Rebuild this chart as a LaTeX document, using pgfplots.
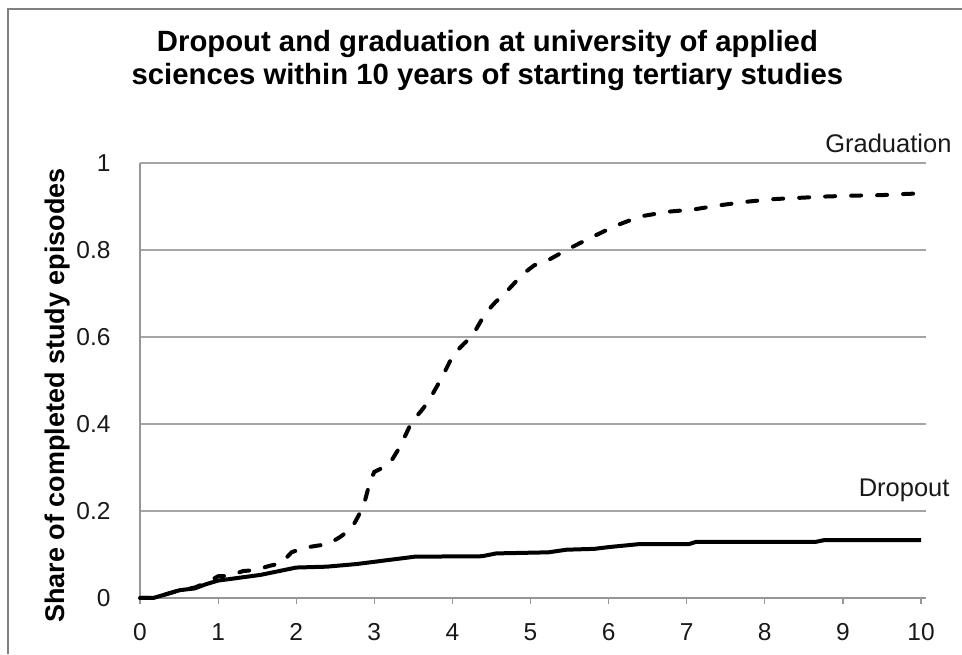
\documentclass[border=0pt]{standalone}
\usepackage{fontspec}
\setmainfont{Liberation Sans}
\usepackage{pgfplots}
\pgfplotsset{compat=1.18}
\definecolor{gridc}{RGB}{165,165,165}
\definecolor{axisc}{RGB}{150,150,150}
\definecolor{framec}{RGB}{128,128,128}
\begin{document}
\begin{tikzpicture}[x=1pt,y=1pt]
\path[use as bounding box] (0,0) rectangle (962,654);
\draw[framec, line width=2pt] (7.5,0) -- (7.5,644.7) -- (962,644.7);
\begin{axis}[
  at={(140pt,56pt)}, anchor=south west,
  scale only axis, width=786pt, height=435pt,
  xmin=0, xmax=10.064, ymin=0, ymax=1,
  axis x line*=bottom, axis y line*=left,
  axis line style={axisc, line width=1.2pt},
  xtick={0,1,...,10}, ytick={0,0.2,0.4,0.6,0.8,1},
  yticklabels={0,0.2,0.4,0.6,0.8,1},
  ymajorgrids, grid style={gridc, line width=1.3pt},
  tick align=outside, major tick length=6pt,
  xtick style={axisc, line width=1.2pt},
  ytick style={draw=none},
  /pgf/number format/assume math mode=true,
  tick label style={font=\fontsize{24.5}{26}\selectfont, text=black!90},
  yticklabel style={xshift=-20pt},
  xticklabel style={yshift=-16pt},
  ylabel={Share of completed study episodes},
  ylabel style={at={(axis description cs:-0.0965,0.4655)}, anchor=base, rotate=0,
    font=\bfseries\fontsize{27}{30}\selectfont},
  title={Dropout and graduation at university of applied\\sciences within 10 years of starting tertiary studies},
  title style={at={(axis description cs:0.442,1.1662)}, anchor=base, align=center,
    font=\bfseries\fontsize{29.3}{33.4}\selectfont},
  clip=false,
]
\addplot[black, line width=4pt, dash pattern=on 10pt off 16pt, line cap=round] coordinates {
(0,0) (0.17,0) (0.51,0.018) (0.7,0.024) (0.85,0.035) (1.0,0.05) (1.15,0.051)
(1.32,0.062) (1.47,0.064) (1.66,0.074) (1.81,0.08) (1.94,0.105) (2.09,0.115)
(2.26,0.12) (2.41,0.124) (2.56,0.14) (2.71,0.16) (2.8,0.19) (2.86,0.21)
(2.94,0.264) (3.0,0.29) (3.14,0.302) (3.2,0.31) (3.33,0.348) (3.48,0.405)
(3.6,0.43) (3.69,0.451) (3.86,0.505) (4.01,0.559) (4.15,0.585) (4.25,0.601)
(4.42,0.654) (4.55,0.68) (4.67,0.70) (4.8,0.725) (4.91,0.746) (5.05,0.765)
(5.19,0.773) (5.48,0.802) (5.78,0.829) (6.08,0.855) (6.40,0.877) (6.76,0.888)
(7.08,0.893) (7.43,0.903) (7.77,0.911) (8.11,0.917) (8.45,0.92) (8.79,0.923)
(9.13,0.925) (9.48,0.926) (9.82,0.929) (10,0.93)
};
\addplot[black, line width=4pt, line join=round] coordinates {
(0,0) (0.17,0) (0.51,0.018) (0.7,0.022) (0.85,0.032) (1.0,0.04) (1.54,0.053)
(2.0,0.07) (2.39,0.072) (2.77,0.078) (2.99,0.083) (3.3,0.09) (3.52,0.095)
(4.38,0.096) (4.56,0.1025) (5.23,0.105) (5.46,0.111) (5.82,0.113) (6.0,0.117)
(6.4,0.124) (7.03,0.124) (7.12,0.129) (8.65,0.129) (8.76,0.133) (10,0.133)
};
\end{axis}
\node[anchor=base east, font=\fontsize{25.5}{28}\selectfont, text=black!90] at (955,501.7) {Graduation};
\node[anchor=base east, font=\fontsize{25.5}{28}\selectfont, text=black!90] at (953,157) {Dropout};
\end{tikzpicture}
\end{document}
